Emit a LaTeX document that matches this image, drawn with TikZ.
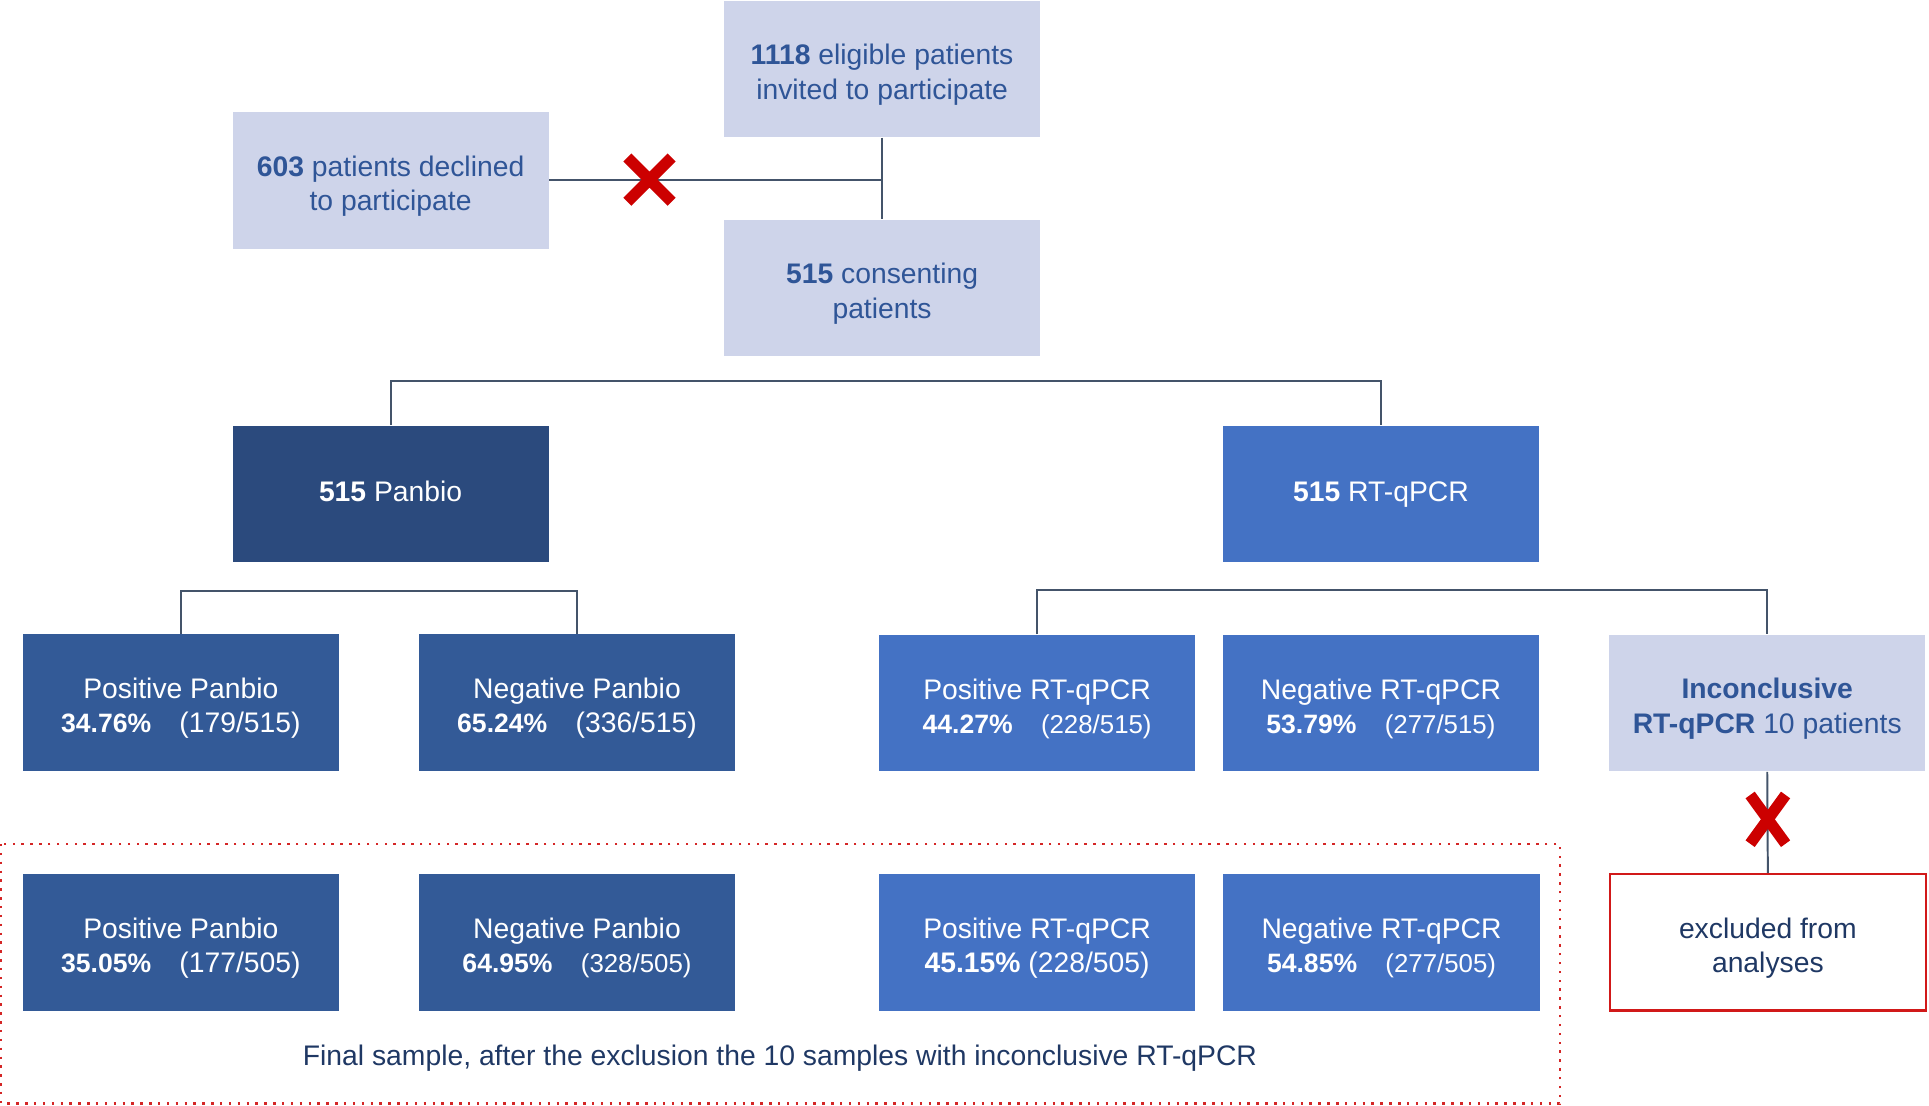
\documentclass[tikz,border=0pt]{standalone}
\usepackage{fontspec}
\setmainfont{Liberation Sans}
\usepackage{tikz}
\usetikzlibrary{positioning,arrows.meta,shapes}
\definecolor{lightfill}{HTML}{CED4EA}
\definecolor{lighttext}{HTML}{2F5597}
\definecolor{darkfill}{HTML}{2B4A7D}
\definecolor{midfill}{HTML}{335A97}
\definecolor{rtfill}{HTML}{4472C4}
\definecolor{navytext}{HTML}{1F3864}
\definecolor{linkcol}{HTML}{44546A}
\definecolor{crossred}{HTML}{CC0000}
\def\sm#1{{\fontsize{10.5}{14}\selectfont #1}}
\def\pc#1{{\fontsize{10.8}{14}\selectfont\bfseries #1}}

\begin{document}
\begin{tikzpicture}[x=0.5pt, y=-0.5pt, font=\fontsize{11.5}{14}\selectfont,
	box/.style={rectangle, align=center, inner sep=0pt, minimum width=128.5pt, minimum height=55.5pt},
	twoline/.style={execute at begin node={\rule{0pt}{27pt}}},
	oneline/.style={text height=8.3pt, text depth=2.4pt},
	light/.style={box, fill=lightfill, text=lighttext},
	dark/.style={box, fill=darkfill, text=white},
	mid/.style={box, twoline, fill=midfill, text=white},
	rt/.style={box, fill=rtfill, text=white},
	excl/.style={box, twoline, draw=crossred!90!white, line width=1pt, fill=white, text=navytext},
	link/.style={draw=linkcol, line width=0.8pt},
	redx/.pic={\draw[crossred, line width=4.6pt] (-18,-18) -- (18,18) (-18,18) -- (18,-18);}]
	\useasboundingbox (0,0) rectangle (1568,899);
	% top part
	\draw (717,56)node[light, twoline](eligible){\textbf{1118} eligible patients\\invited to participate};
	\draw (317.5,146.5)node[light, twoline](declined){\textbf{603} patients declined\\to participate};
	\draw (717,234)node[light, twoline](consent){\textbf{515} consenting\\patients};
	\coordinate (jn) at (eligible.south |- declined.east);
	\draw[link] (eligible.south) -- (consent.north);
	\draw[link] (declined.east) -- (jn);
	\draw (528,146) pic{redx};
	% the two tests
	\draw (317.5,401.5)node[dark, oneline](panbio){\textbf{515} Panbio};
	\draw (1122.5,401.5)node[rt, oneline](rtpcr){\textbf{515} RT-qPCR};
	\draw[link] (panbio.north) -- ++(0,-36) -| (rtpcr.north);
	% results
	\draw (147,571)node[mid](posP){Positive Panbio\\\pc{34.76\%}\quad(179/515)};
	\draw (469,571)node[mid](negP){Negative Panbio\\\pc{65.24\%}\quad(336/515)};
	\draw (843,571.5)node[rt, twoline](posR){Positive RT-qPCR\\\pc{44.27\%}\quad\sm{(228/515)}};
	\draw (1122.5,571.5)node[rt, twoline](negR){Negative RT-qPCR\\\pc{53.79\%}\quad\sm{(277/515)}};
	\draw (1436.5,571.5)node[light, twoline](incon){\textbf{Inconclusive}\\\textbf{RT-qPCR} 10 patients};
	\draw[link] (posP.north) -- ++(0,-35) -| (negP.north);
	\draw[link] (posR.north) -- ++(0,-36) -| (incon.north);
	\draw (1437,766)node[excl](exclu){excluded from\\analyses};
	\draw[link] (incon.south) -- (exclu.north);
	\draw (1437,666) pic[xscale=0.8, yscale=1.1]{redx};
	% final sample
	\draw[crossred!85!white, line width=0.9pt, dash pattern=on 1pt off 2.6pt] (1,686) rectangle (1268,897);
	\draw (147,766)node[mid](posP2){Positive Panbio\\\pc{35.05\%}\quad(177/505)};
	\draw (469,766)node[mid](negP2){Negative Panbio\\\pc{64.95\%}\quad\sm{(328/505)}};
	\draw (843,766)node[rt, twoline](posR2){Positive RT-qPCR\\\textbf{45.15\%} (228/505)};
	\draw (1123,766)node[rt, twoline](negR2){Negative RT-qPCR\\\pc{54.85\%}\quad\sm{(277/505)}};
	\draw (634,860)node[text=navytext](final){Final sample, after the exclusion the 10 samples with inconclusive RT-qPCR};
\end{tikzpicture}
\end{document}
